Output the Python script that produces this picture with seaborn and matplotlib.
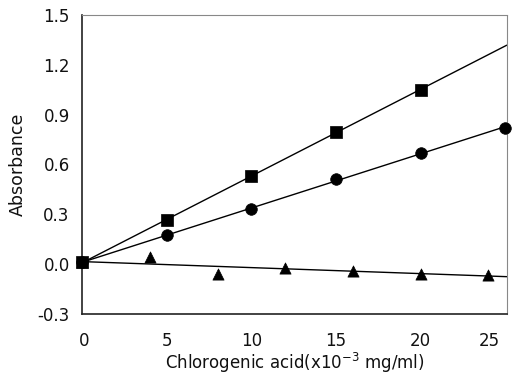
import numpy as np
import pandas as pd
import matplotlib
matplotlib.use("Agg")
import matplotlib.pyplot as plt
import matplotlib.transforms as mtransforms
import seaborn as sns

sq_x = [0, 5, 10, 15, 20]
sq_y = [0.01, 0.265, 0.53, 0.795, 1.05]
ci_x = [0, 5, 10, 15, 20, 25]
ci_y = [0.01, 0.175, 0.33, 0.51, 0.67, 0.82]
tr_x = [0, 4, 8, 12, 16, 20, 24]
tr_y = [0.01, 0.04, -0.06, -0.025, -0.04, -0.06, -0.065]
x_ticks = [0, 5, 10, 15, 20, 25]
y_ticks = [-0.3, 0.0, 0.3, 0.6, 0.9, 1.2, 1.5]

sns.set_theme(style="white")
plt.rcParams['font.family'] = ['DejaVu Sans']

fig = plt.figure(figsize=(5.14, 3.75), dpi=100)
ax = fig.add_axes([0.16, 0.163, 0.826, 0.797])

XMAX = 25.1
xfit = np.array([0, XMAX])
for xs, ys, m, ms in [(sq_x, sq_y, 's', 75), (ci_x, ci_y, 'o', 70), (tr_x, tr_y, '^', 65)]:
    k, b = np.polyfit(xs, ys, 1)
    line = pd.DataFrame({'x': xfit, 'y': k * xfit + b})
    sns.lineplot(data=line, x='x', y='y', ax=ax, color='black', lw=1.0)
    pts = pd.DataFrame({'x': xs, 'y': ys})
    sns.scatterplot(data=pts, x='x', y='y', ax=ax, marker=m, s=ms, color='black',
                    edgecolor='black', linewidth=0.5, zorder=5, clip_on=False)

ax.set_xlim(0, XMAX)
ax.set_ylim(-0.3, 1.5)
ax.set_xticks(x_ticks)
ax.set_yticks(y_ticks)
ax.set_yticklabels([f"{v:.1f}" for v in y_ticks])
ax.tick_params(axis='both', direction='in', length=3, width=0.8, color='#555555',
               labelsize=12, pad=9)
ax.tick_params(axis='x', pad=13)
for lab in ax.get_xticklabels() + ax.get_yticklabels():
    lab.set_color('#111111')
lbls = ax.get_xticklabels()
off = mtransforms.ScaledTranslation(-0.16, 0, fig.dpi_scale_trans)
lbls[-1].set_transform(lbls[-1].get_transform() + off)
off0 = mtransforms.ScaledTranslation(0.02, 0, fig.dpi_scale_trans)
lbls[0].set_transform(lbls[0].get_transform() + off0)

for s in ['left', 'bottom']:
    ax.spines[s].set_color('#222222')
    ax.spines[s].set_linewidth(1.2)
for s in ['top', 'right']:
    ax.spines[s].set_color('#888888')
    ax.spines[s].set_linewidth(0.8)
    ax.spines[s].set_linestyle((0, (1, 1)))

ax.set_xlabel("Chlorogenic acid(x10$^{-3}$ mg/ml)", fontsize=12, color='#111111', labelpad=1)
ax.set_ylabel("Absorbance", fontsize=12.5, color='#111111', labelpad=8)

fig.savefig("out.png", dpi=100)
